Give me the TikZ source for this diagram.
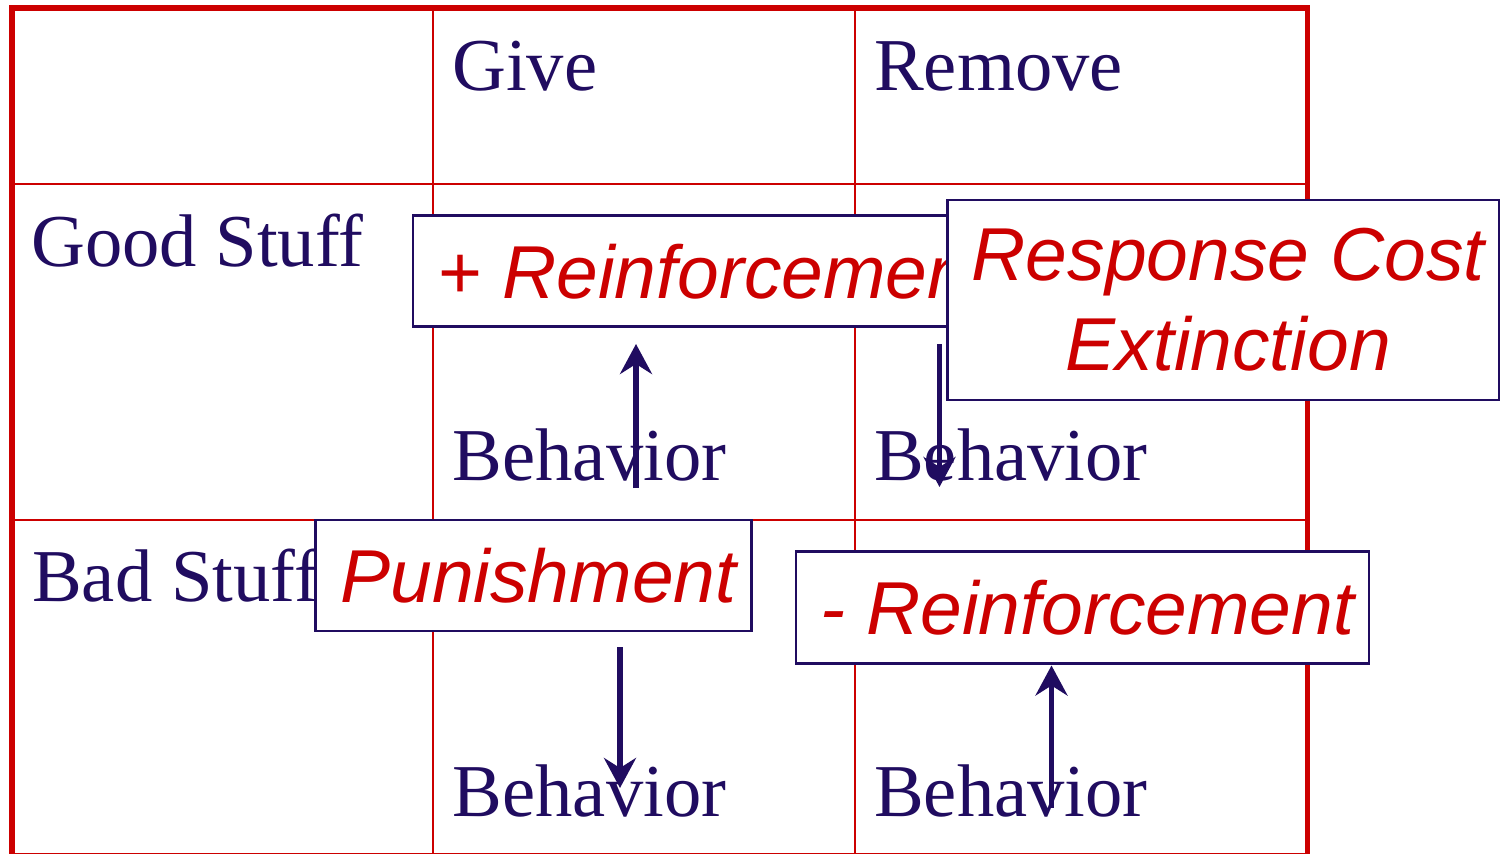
\documentclass[tikz,border=0pt]{standalone}
\usepackage{fontspec}
\setmainfont{Liberation Serif}
\newfontfamily\boxfont{Liberation Sans}
\usetikzlibrary{arrows.meta}
\definecolor{navy}{RGB}{32,12,96}
\definecolor{tabred}{RGB}{204,0,0}
% small push to the right for the italic box labels
\newcommand\nudge{\hspace*{10pt}}

\begin{document}
\begin{tikzpicture}[x=1pt,y=-1pt,
  celltext/.style={anchor=base west, inner sep=0pt, text=navy,
    font=\fontsize{74.6}{90}\selectfont},
  box/.style={draw=navy, line width=2.5pt, fill=white, text=tabred,
    inner xsep=8pt, inner ysep=0pt, align=center,
    font=\boxfont\itshape\fontsize{75}{90}\selectfont},
  gridline/.style={draw=tabred, line width=2pt},
  tableframe/.style={draw=tabred, line width=5.6pt},
  flow/.style={draw=navy, line width=5.5pt,
    -{Stealth[length=30pt,width=32pt,inset=10pt]}}]
\useasboundingbox (0,0) rectangle (1500,854);
\clip (0,0) rectangle (1500,854);

% table grid
\draw[gridline] (12,183.7) -- (1307,183.7);
\draw[gridline] (12,520) -- (1307,520);
\draw[gridline] (433.3,8) -- (433.3,856);
\draw[gridline] (855,8) -- (855,856);
\draw[tableframe] (12.2,7.9) rectangle (1307.5,855.6);

% headers and row labels
\node[celltext] (give)   at (452,90)    {Give};
\node[celltext] (remove) at (874,90)    {Remove};
\node[celltext] (good)   at (31,266.5)  {Good Stuff};
\node[celltext] (bad)    at (32,601.7)  {Bad Stuff};

% behaviour cells
\node[celltext] (b1) at (452.5,480) {Behavior};
\node[celltext] (b2) at (874,480)   {Behavior};
\node[celltext] (b3) at (452.5,816) {Behavior};
\node[celltext] (b4) at (874,816)   {Behavior};

% arrow end points
\coordinate (u1s) at (636,488);    \coordinate (u1e) at (636,344);
\coordinate (d1s) at (939.5,344);  \coordinate (d1e) at (939.5,487);
\coordinate (d2s) at (620,647);    \coordinate (d2e) at (620,788);
\coordinate (u2s) at (1051.5,808); \coordinate (u2e) at (1051.5,665.5);

\draw[flow] (u1s) -- (u1e);
\draw[flow] (d1s) -- (d1e);
\draw[flow] (d2s) -- (d2e);
\draw[flow] (u2s) -- (u2e);

% consequence labels
\node[box, anchor=west, inner xsep=25pt, minimum height=111pt]
  (posr) at (411.5,271.2) {+ Reinforcement};
\node[box, minimum width=551.5pt, minimum height=200pt]
  (cost) at (1223.2,300) {\nudge Response Cost\\\nudge Extinction};
\node[box, minimum width=436pt, minimum height=111pt]
  (pun) at (533.4,575.5) {\nudge Punishment};
\node[box, minimum width=573pt, minimum height=111.6pt]
  (negr) at (1082.5,607.5) {\nudge - Reinforcement};
\end{tikzpicture}
\end{document}
